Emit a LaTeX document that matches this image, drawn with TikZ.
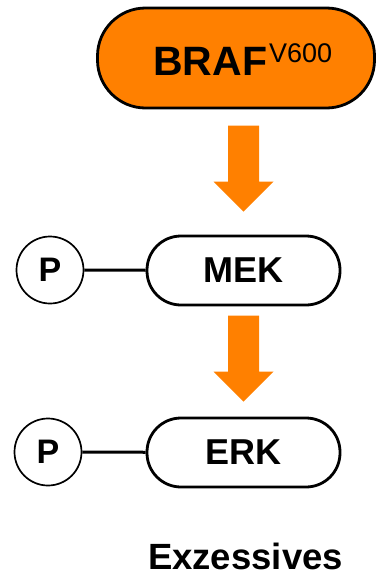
\documentclass[tikz,border=0pt]{standalone}
\usepackage{fontspec}
\setmainfont{Liberation Sans}
\usetikzlibrary{calc}
\definecolor{kinaseorange}{HTML}{FF8000}
\tikzset{
  kinase/.style={draw=black, line width=2.8pt, rounded corners=34pt,
    minimum width=193pt, minimum height=69pt, inner sep=0pt,
    font=\fontsize{36}{40}\selectfont\bfseries},
  phospho/.style={draw=black, line width=1.7pt, circle, minimum size=67pt,
    inner sep=0pt, font=\fontsize{34}{38}\selectfont\bfseries},
  bond/.style={draw=black, line width=3pt},
  arrowfill/.style={fill=kinaseorange}
}
% block arrow pointing down, tip at #1
\newcommand\downblock[1]{%
  \fill[arrowfill] ($(#1)+(-15.5,86)$) -- ($(#1)+(15.5,86)$) -- ($(#1)+(15.5,30)$)
    -- ($(#1)+(30,30)$) -- (#1) -- ($(#1)+(-30,30)$) -- ($(#1)+(-15.5,30)$) -- cycle;}
\begin{document}
\begin{tikzpicture}[x=1pt,y=1pt]
  \useasboundingbox (0,0) rectangle (376,-576);
  % mutant kinase
  \node[draw=black, line width=2.8pt, fill=kinaseorange, rounded corners=48pt,
        minimum width=277pt, minimum height=100pt, inner sep=0pt]
        (braf) at (236,-58) {};
  \node[anchor=base west, inner sep=0pt, font=\fontsize{41}{44}\selectfont\bfseries]
        (braflabel) at (153,-75) {BRAF};
  \node[anchor=base west, inner sep=0pt, font=\fontsize{27}{30}\selectfont]
        (brafsup) at (269,-62) {V600};
  % cascade
  \node[kinase] (mek) at (243.5,-270.5) {MEK};
  \node[kinase] (erk) at (243.5,-452.5) {ERK};
  \node[phospho] (p1) at (50,-270) {P};
  \node[phospho] (p2) at (48,-452) {P};
  \draw[bond] (p1) -- (mek);
  \draw[bond] (p2) -- (erk);
  \coordinate (tip1) at ($(mek.north)+(0,23)$);
  \coordinate (tip2) at ($(erk.north)+(0,15)$);
  \downblock{tip1}
  \downblock{tip2}
  \node[anchor=base, inner sep=0pt, font=\fontsize{36.5}{40}\selectfont\bfseries]
        (outcome) at (245.5,-569.5) {Exzessives};
\end{tikzpicture}
\end{document}
